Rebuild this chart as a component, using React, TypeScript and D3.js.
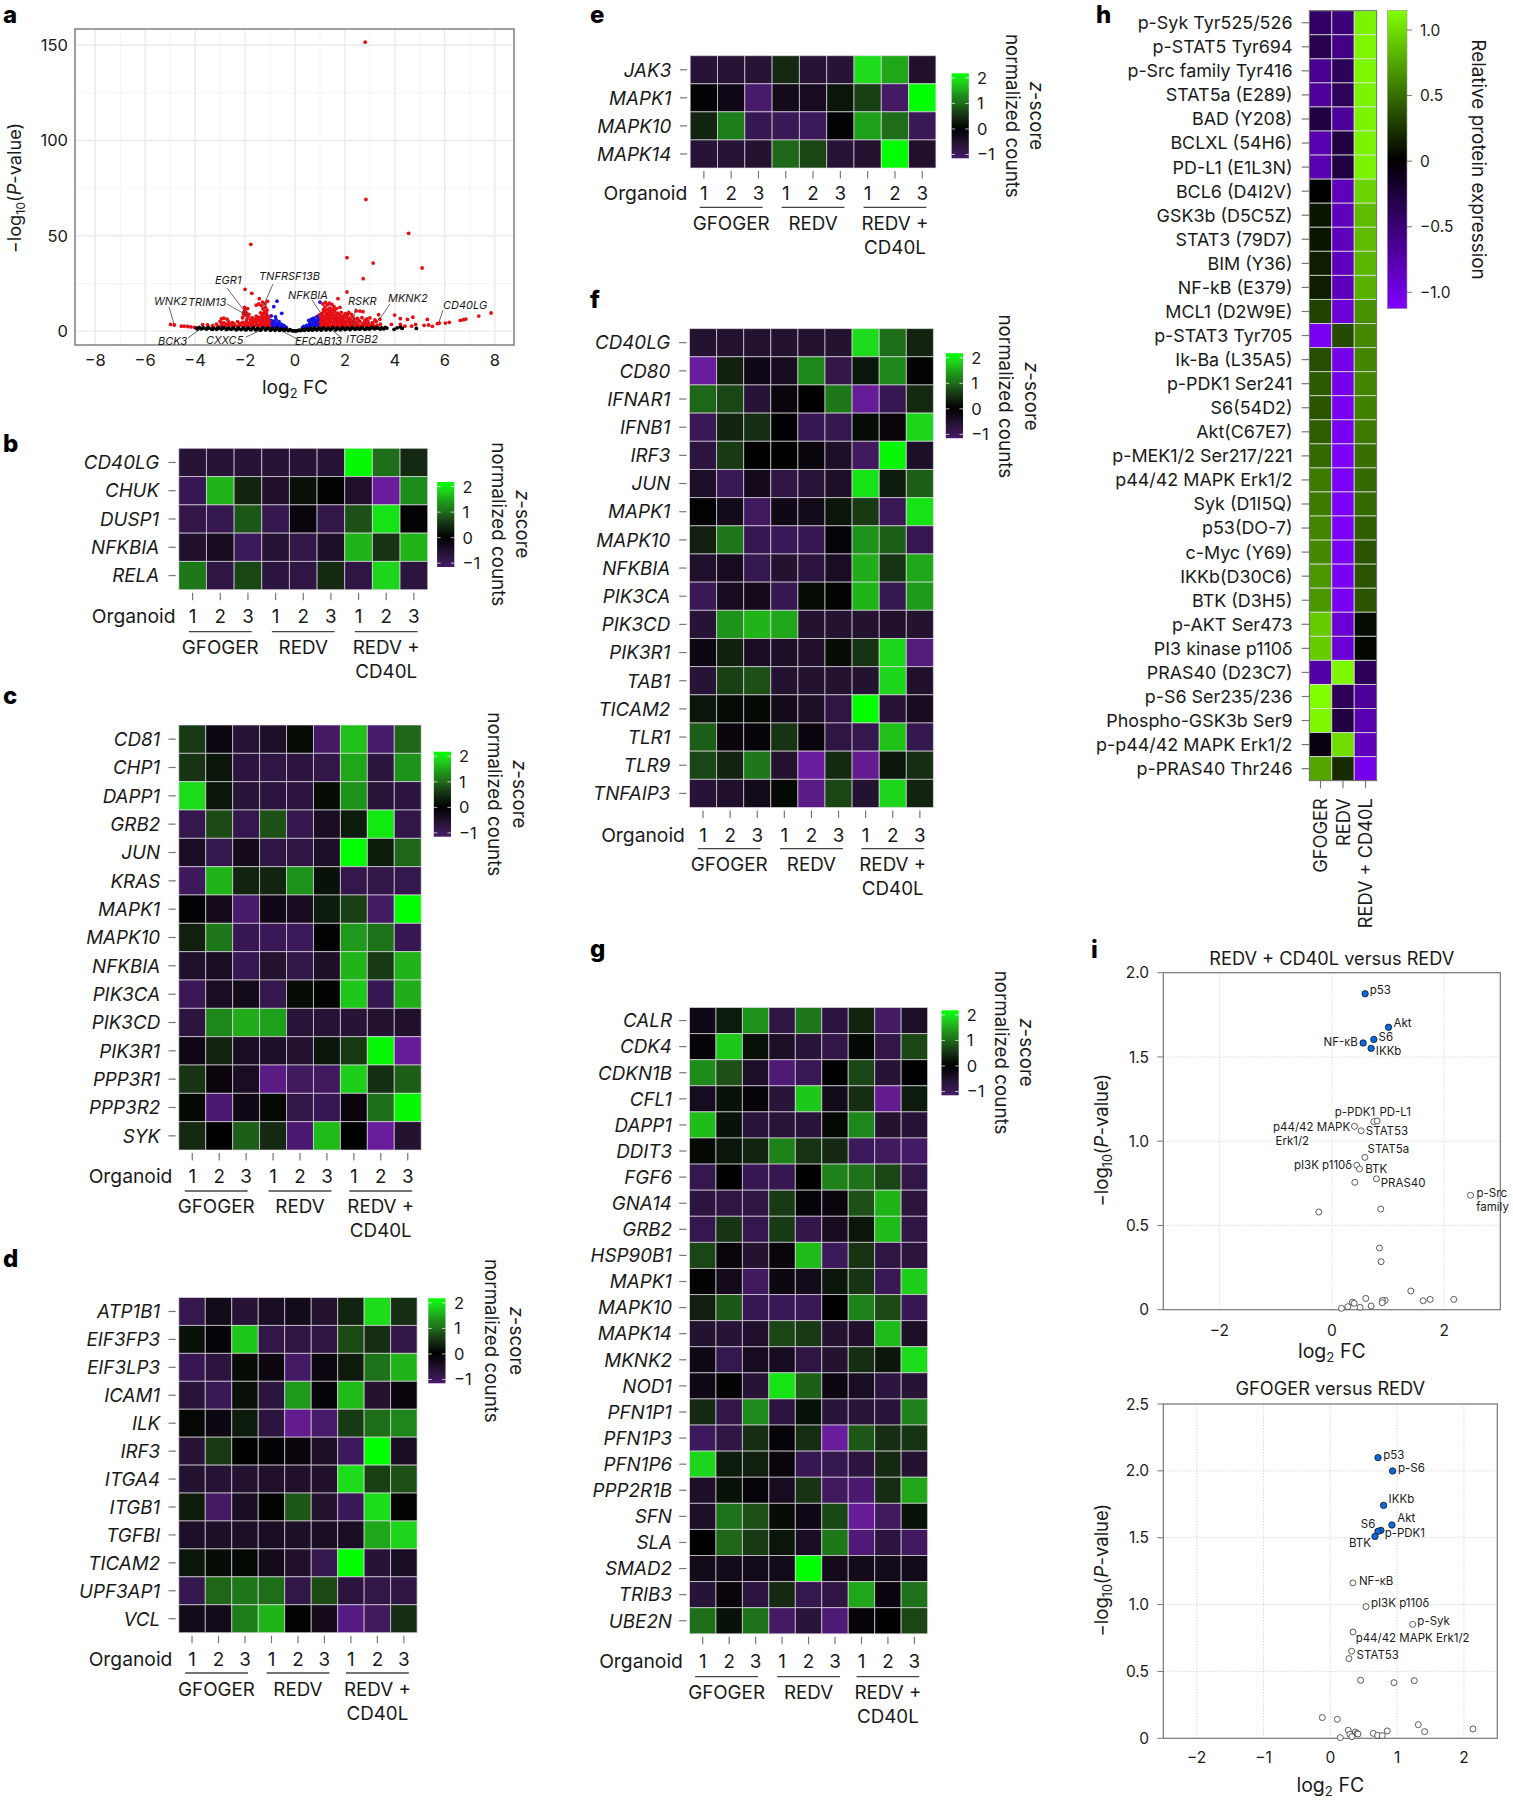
import React from 'react';
import * as d3 from 'd3';

const FONT = 'Inter, "Noto Sans", sans-serif';

// heat map rows, z-scores
const genesB = ['CD40LG', 'CHUK', 'DUSP1', 'NFKBIA', 'RELA'];
const valuesB = [
  [-0.6, -0.6, -0.6, -0.6, -0.6, -0.6, 2.1, 1.0, 0.45],
  [-0.9, 1.6, 0.4, -0.5, 0.2, 0.05, -0.5, -1.6, 1.3],
  [-0.8, -0.85, 0.85, -0.85, -0.15, -0.8, 0.8, 1.95, -0.05],
  [-0.5, -0.35, -1.0, -0.6, -0.8, -0.45, 1.6, 0.55, 1.6],
  [1.1, -0.75, 0.7, -0.7, -0.75, 0.45, -0.75, 1.85, -0.7],
];

const genesC = ['CD81', 'CHP1', 'DAPP1', 'GRB2', 'JUN', 'KRAS', 'MAPK1', 'MAPK10', 'NFKBIA', 'PIK3CA', 'PIK3CD', 'PIK3R1', 'PPP3R1', 'PPP3R2', 'SYK'];
const valuesC = [
  [0.6, -0.2, -0.6, -0.45, 0.15, -1.1, 1.7, -1.15, 0.95],
  [0.55, 0.25, -0.7, -0.75, -0.7, -0.8, 1.5, -0.7, 1.35],
  [1.9, 0.25, -0.65, -0.7, -0.7, 0.15, 1.35, -0.65, -0.7],
  [-0.85, 0.75, -0.85, 0.8, -0.85, -0.4, 0.3, 2.0, -0.8],
  [-0.4, -0.85, -0.3, -0.75, -0.75, -0.45, 2.15, 0.3, 0.95],
  [-1.0, 1.6, 0.4, 0.4, 1.35, 0.2, -0.85, -0.8, -0.85],
  [-0.05, -0.3, -1.15, -0.25, -0.35, 0.3, 0.65, -1.1, 2.2],
  [0.35, 1.1, -0.9, -0.95, -1.0, -0.05, 1.4, 1.05, -0.9],
  [-0.5, -0.4, -0.9, -0.55, -0.8, -0.45, 1.6, 0.6, 1.6],
  [-0.95, -0.4, -0.3, -0.85, 0.15, 0.05, 1.75, -0.9, 1.55],
  [-0.7, 1.25, 1.55, 1.45, -0.65, -0.6, -0.6, -0.55, -0.5],
  [-0.25, 0.4, -0.4, -0.45, -0.55, 0.25, 0.6, 2.1, -1.55],
  [0.55, -0.15, -0.4, -1.4, -1.05, -1.05, 1.8, 0.5, 0.9],
  [0.1, -1.2, -0.25, 0.1, -0.8, -0.9, -0.15, 1.0, 2.1],
  [0.45, -0.02, 0.9, 0.45, -1.2, 1.65, -0.02, -1.7, -0.55],
];

const genesD = ['ATP1B1', 'EIF3FP3', 'EIF3LP3', 'ICAM1', 'ILK', 'IRF3', 'ITGA4', 'ITGB1', 'TGFBI', 'TICAM2', 'UPF3AP1', 'VCL'];
const valuesD = [
  [-0.85, -0.3, -0.6, -0.4, -0.3, -0.55, 0.4, 1.9, 0.5],
  [0.2, -0.1, 1.75, -0.8, -0.75, -0.75, 0.75, 0.5, -0.8],
  [-0.9, -0.7, 0.15, -0.2, -1.1, -0.2, 0.3, 1.05, 1.6],
  [-0.65, -0.95, 0.2, -0.7, 1.4, -0.1, 1.65, -0.55, -0.15],
  [0.08, -0.2, 0.3, -0.7, -1.5, -1.15, 0.6, 1.0, 1.25],
  [-0.6, 0.6, 0, -0.05, -0.15, -0.45, -1.0, 2.15, -0.4],
  [-0.55, -0.6, -0.55, -0.5, -0.5, -0.5, 1.9, 0.65, 0.8],
  [0.3, -1.1, -0.4, 0.05, 0.85, -0.55, -0.95, 1.9, 0.05],
  [-0.45, -0.45, -0.45, -0.4, -0.45, -0.4, -0.4, 1.5, 1.85],
  [0.25, 0.15, 0.1, -0.3, -0.5, -0.85, 2.2, -0.6, -0.4],
  [-0.85, 0.95, 1.1, 1.0, -0.8, 0.75, -0.7, -0.8, -0.75],
  [-0.3, -0.3, 1.15, 1.6, 0.02, -0.3, -1.35, -1.05, 0.5],
];

const genesE = ['JAK3', 'MAPK1', 'MAPK10', 'MAPK14'];
const valuesE = [
  [-0.6, -0.6, -0.6, 0.45, -0.6, -0.6, 1.9, 1.5, -0.5],
  [-0.05, -0.25, -1.15, -0.3, -0.35, 0.25, 0.65, -1.1, 2.2],
  [0.4, 1.15, -0.9, -0.95, -1.0, -0.05, 1.45, 1.0, -0.95],
  [-0.6, -0.6, -0.55, 0.95, 0.7, -0.6, -0.55, 2.15, -0.5],
];

const genesF = ['CD40LG', 'CD80', 'IFNAR1', 'IFNB1', 'IRF3', 'JUN', 'MAPK1', 'MAPK10', 'NFKBIA', 'PIK3CA', 'PIK3CD', 'PIK3R1', 'TAB1', 'TICAM2', 'TLR1', 'TLR9', 'TNFAIP3'];
const valuesF = [
  [-0.55, -0.55, -0.55, -0.55, -0.55, -0.55, 1.9, 1.0, 0.4],
  [-1.6, 0.35, -0.25, -0.35, 1.25, -0.8, 0.25, 1.25, 0.05],
  [0.95, 0.7, -0.6, -0.15, 0, 1.1, -1.55, -0.9, 0.45],
  [-0.95, 0.4, 0.5, -0.02, -0.9, -0.85, 0.12, -0.12, 1.85],
  [-0.7, 0.6, 0, -0.02, -0.15, -0.45, -1.05, 2.1, -0.45],
  [-0.45, -0.95, -0.3, -0.75, -0.65, -0.45, 1.95, 0.3, 0.9],
  [-0.05, -0.3, -1.05, -0.25, -0.3, 0.25, 0.6, -0.95, 1.95],
  [0.35, 1.1, -0.9, -0.95, -0.9, -0.08, 1.35, 0.9, -0.9],
  [-0.5, -0.35, -0.85, -0.55, -0.7, -0.4, 1.55, 0.55, 1.5],
  [-0.95, -0.35, -0.3, -0.9, 0.12, 0.05, 1.6, -0.85, 1.4],
  [-0.6, 1.35, 1.6, 1.5, -0.55, -0.55, -0.55, -0.5, -0.55],
  [-0.2, 0.35, -0.4, -0.45, -0.5, 0.15, 0.55, 1.85, -1.3],
  [-0.6, 0.65, 0.8, -0.55, -0.55, -0.55, -0.55, 1.85, -0.5],
  [0.25, 0.12, 0.1, -0.3, -0.45, -0.75, 2.2, -0.6, -0.35],
  [0.9, -0.15, -0.1, 0.55, -0.15, -0.75, -0.85, 1.7, -0.85],
  [0.7, 0.4, 1.1, -0.55, -1.7, 0.45, -1.5, 0.25, 0.5],
  [-0.6, -0.5, -0.3, 0.1, -1.4, 0.7, -0.55, 1.85, 0.4],
];

const genesG = ['CALR', 'CDK4', 'CDKN1B', 'CFL1', 'DAPP1', 'DDIT3', 'FGF6', 'GNA14', 'GRB2', 'HSP90B1', 'MAPK1', 'MAPK10', 'MAPK14', 'MKNK2', 'NOD1', 'PFN1P1', 'PFN1P3', 'PFN1P6', 'PPP2R1B', 'SFN', 'SLA', 'SMAD2', 'TRIB3', 'UBE2N'];
const valuesG = [
  [-0.25, 0.3, 1.35, -0.75, 1.1, -0.7, 0.4, -1.1, -0.45],
  [-0.1, 1.75, 0.2, -0.45, -0.65, -0.8, 0.1, -0.8, 0.7],
  [1.3, 0.8, -0.45, -1.25, -0.95, -0.02, 0.7, -0.6, 0],
  [-0.35, 0.2, -0.1, -0.65, 1.75, -0.3, 0.5, -1.5, 0.3],
  [1.65, 0.2, -0.65, -0.65, -0.65, 0.1, 1.25, -0.55, -0.6],
  [0.1, 0.25, 0.4, 1.2, 0.55, 0.45, -1.0, -1.05, -1.1],
  [-0.85, 0, -0.9, -0.9, -0.02, 1.2, 1.05, 0.7, -0.8],
  [-0.7, -0.75, -0.75, 0.6, -0.1, -0.15, 0.8, 1.6, -0.7],
  [-0.85, 0.55, -0.85, 0.6, -0.8, -0.35, 0.25, 1.65, -0.75],
  [0.7, -0.12, -0.55, -0.12, 1.65, -1.0, 0.55, -0.75, -0.7],
  [-0.05, -0.3, -1.05, -0.2, -0.3, 0.25, 0.55, -0.95, 1.8],
  [0.35, 0.85, -0.9, -0.95, -0.95, -0.02, 1.2, 0.75, -0.9],
  [-0.55, -0.6, -0.5, 0.7, 0.6, -0.55, -0.5, 1.65, -0.45],
  [-0.25, -0.85, -0.35, -0.35, -0.75, -0.55, 0.5, 0.25, 1.9],
  [-0.25, -0.05, -0.6, 1.95, 0.9, -0.2, -0.4, -0.7, -0.6],
  [0.45, -0.8, 1.3, -0.7, 0.2, -0.65, -0.65, -0.65, 1.2],
  [-1.0, -0.75, 0.5, -0.1, 0.5, -1.6, 0.85, 0.5, 0.55],
  [1.85, 0.3, 0.35, -0.15, -0.9, -0.85, -0.7, 0.45, -0.55],
  [-0.45, 0.2, -0.08, -0.35, 0.55, -1.05, -1.2, 0.5, 1.5],
  [-0.45, 1.05, 0.8, 0.15, -0.25, 0.7, -1.55, -1.05, 0.2],
  [0, 0.95, 0.6, 0.25, -0.4, 1.1, -1.25, -0.7, -1.05],
  [-0.3, -0.3, -0.3, -0.3, 2.2, -0.3, -0.3, -0.3, -0.3],
  [-0.6, -0.12, -0.7, 0.45, -0.85, -0.75, 1.5, -0.15, 1.05],
  [1.0, 0.2, 1.05, -1.1, -0.65, -1.25, -0.1, -0.02, 0.7],
];

// panel h
const proteins = ['p-Syk Tyr525/526', 'p-STAT5 Tyr694', 'p-Src family Tyr416', 'STAT5a (E289)', 'BAD (Y208)', 'BCLXL (54H6)', 'PD-L1 (E1L3N)', 'BCL6 (D4I2V)', 'GSK3b (D5C5Z)', 'STAT3 (79D7)', 'BIM (Y36)', 'NF-kB (E379)', 'MCL1 (D2W9E)', 'p-STAT3 Tyr705', 'Ik-Ba (L35A5)', 'p-PDK1 Ser241', 'S6(54D2)', 'Akt(C67E7)', 'p-MEK1/2 Ser217/221', 'p44/42 MAPK Erk1/2', 'Syk (D1I5Q)', 'p53(DO-7)', 'c-Myc (Y69)', 'IKKb(D30C6)', 'BTK (D3H5)', 'p-AKT Ser473', 'PI3 kinase p110δ', 'PRAS40 (D23C7)', 'p-S6 Ser235/236', 'Phospho-GSK3b Ser9', 'p-p44/42 MAPK Erk1/2', 'p-PRAS40 Thr246'];
const proteinConditions = ['GFOGER', 'REDV', 'REDV + CD40L'];
const proteinValues = [
  [-0.45, -0.55, 1.1], [-0.35, -0.6, 1.12], [-0.65, -0.4, 1.12], [-0.7, -0.4, 1.1],
  [-0.3, -0.7, 1.1], [-0.8, -0.3, 1.1], [-0.8, -0.3, 1.1], [0, -0.85, 0.95],
  [0.1, -0.85, 0.85], [0.1, -0.85, 0.85], [0.13, -0.85, 0.82], [0.13, -0.85, 0.8],
  [0.3, -0.98, 0.65], [-1.1, 0.33, 0.62], [0.35, -1.05, 0.6], [0.4, -1.05, 0.6],
  [0.38, -1.1, 0.58], [0.42, -1.1, 0.55], [0.47, -1.12, 0.5], [0.55, -1.12, 0.48],
  [0.55, -1.12, 0.48], [0.6, -1.12, 0.42], [0.62, -1.1, 0.38], [0.68, -1.1, 0.38],
  [0.68, -1.1, 0.38], [0.92, -0.95, 0.05], [0.92, -0.95, 0.03], [-0.75, 1.12, -0.4],
  [1.15, -0.4, -0.7], [1.12, -0.3, -0.8], [-0.08, 1.0, -0.85], [0.75, 0.2, -1.05],
];

// panel a, log2 FC and -log10 P
const volcanoBlack = [
  [-3.95, 1.6], [-3.84, 1.9], [-3.76, 1.2], [-3.66, 1.7], [-3.55, 1.1], [-3.46, 1.8], [-3.36, 1.2], [-3.25, 1.6], [-3.14, 0.9], [-3.05, 1.7],
  [-2.95, 1.1], [-2.85, 1.8], [-2.75, 0.8], [-2.66, 1.5], [-2.56, 0.9], [-2.46, 1.8], [-2.36, 0.7], [-2.26, 1.5], [-2.16, 0.8], [-2.07, 1.7],
  [-1.97, 0.6], [-1.87, 1.6], [-1.77, 0.7], [-1.67, 1.8], [-1.58, 0.6], [-1.48, 1.5], [-1.38, 0.5], [-1.28, 1.8], [-1.18, 0.6], [-1.08, 1.6],
  [-0.98, 0.5], [-0.9, 1.4], [-0.8, 0.4], [-0.72, 1.5], [-0.62, 0.4], [-0.54, 1.2], [-0.45, 0.4], [-0.36, 1.0], [-0.27, 0.3], [-0.2, 0.7],
  [-0.12, 0.2], [-0.05, 0.1], [0.03, 0.05], [0.1, 0.2], [0.17, 0.5], [0.24, 0.3], [0.3, 0.9], [0.38, 0.4], [0.46, 1.2], [0.54, 0.5],
  [0.62, 1.4], [0.7, 0.5], [0.78, 1.6], [0.87, 0.6], [0.96, 1.5], [1.05, 0.5], [1.14, 1.7], [1.24, 0.6], [1.33, 1.5], [1.42, 0.7],
  [1.52, 1.8], [1.62, 0.6], [1.71, 1.6], [1.81, 0.7], [1.91, 1.8], [2.0, 0.8], [2.1, 1.5], [2.2, 0.8], [2.3, 1.8], [2.4, 0.9],
  [2.49, 1.6], [2.59, 1.0], [2.69, 1.8], [2.79, 0.9], [2.88, 1.5], [2.98, 1.1], [3.08, 1.9], [3.18, 1.2], [3.27, 1.7], [3.37, 1.4],
  [3.48, 1.7], [3.56, 1.2], [3.61, 1.9], [3.68, 1.6], [3.97, 0.9], [4.09, 1.7], [4.22, 2.1], [4.29, 1.4], [4.86, 1.4],
  [-3.9, 1.1], [-3.7, 1.5], [-3.5, 1.5], [-3.3, 0.9], [-3.1, 1.4], [-2.9, 1.5], [-2.7, 1.2], [-2.5, 1.3], [-2.3, 1.1], [-2.1, 1.2],
  [-1.92, 1.1], [-1.72, 1.2], [-1.52, 1.0], [-1.33, 1.1], [-1.13, 1.2], [-0.94, 1.0], [-0.76, 0.9], [-0.58, 0.8], [-0.4, 0.7], [0.42, 0.8],
  [0.58, 0.9], [0.74, 1.0], [0.92, 1.1], [1.09, 1.2], [1.28, 1.0], [1.47, 1.2], [1.66, 1.1], [1.86, 1.2], [2.05, 1.2], [2.25, 1.3],
  [2.44, 1.2], [2.64, 1.4], [2.84, 1.2], [3.03, 1.5], [3.22, 1.5], [3.42, 1.1],
];
const volcanoBlue = [
  [-0.97, 2.6], [-0.93, 4], [-0.88, 5.2], [-0.84, 3], [-0.8, 4.4], [-0.76, 6], [-0.72, 2.8], [-0.68, 3.9], [-0.64, 5], [-0.6, 2.6],
  [-0.55, 3.6], [-0.5, 2.5], [-0.45, 3], [-0.4, 2.2], [-0.35, 2], [-0.9, 2.6], [-0.78, 2.4], [-0.66, 2.4], [-0.52, 2], [-0.97, 5.6],
  [-0.72, 15.7], [-0.85, 12.8], [-0.53, 9.3], [-0.78, 7.5], [-0.95, 8],
  [0.3, 1.8], [0.35, 2.4], [0.42, 2.1], [0.47, 3], [0.52, 2.4], [0.57, 3.4], [0.6, 4.4], [0.63, 2.6], [0.68, 3.5], [0.72, 5],
  [0.74, 2.8], [0.78, 4], [0.8, 6], [0.83, 2.9], [0.86, 4.6], [0.9, 3.2], [0.92, 5.6], [0.95, 2.8], [0.96, 4], [0.98, 7],
  [0.55, 5.6], [0.66, 6.2], [0.75, 6.8], [0.88, 7.6], [0.94, 6.2], [0.97, 8.4], [1.0, 15.2], [0.99, 5],
];
const volcanoRed = [
  [2.81, 151.6], [2.84, 69.1], [4.55, 51.3], [-1.77, 45.5], [2.08, 38.5], [3.13, 35.7], [5.09, 33.1], [2.73, 27.5], [-2.0, 21.9], [2.08, 20.5],
  [-1.73, 19.8], [-1.43, 17], [1.72, 17],
  [7.85, 9.5], [7.36, 7.9], [6.84, 6.3], [6.75, 6], [6.62, 5.6], [6.18, 4.6], [6.02, 4.2], [5.78, 4.2], [5.7, 3.9], [5.3, 6.1], [5.5, 2.5],
  [5.35, 3.2], [5.17, 3], [4.72, 7.3], [4.83, 3.5], [4.67, 2.6], [4.5, 6.1], [4.22, 6.5], [3.99, 8.4], [3.86, 3.5], [4.22, 3.5], [4.4, 2.6],
  [-4.98, 3.5], [-4.83, 3.2], [-4.55, 2.6], [-4.44, 2.6], [-4.3, 2.4], [-4.17, 2.2], [-4.03, 2],
  [1.03, 2.6], [1.12, 3.4], [1.18, 2.4], [1.26, 3.1], [1.33, 2.3], [1.41, 2.9], [1.49, 2.5], [1.57, 3.3], [1.64, 2.4], [1.72, 2.8],
  [1.81, 2.3], [1.9, 3.2], [1.98, 2.5], [2.06, 2.9], [2.14, 2.4], [2.23, 3.1], [2.31, 2.6], [2.42, 2.4], [2.55, 2.8], [2.66, 2.5],
  [2.78, 3.2], [2.9, 2.6], [3.03, 2.9], [3.18, 2.5], [3.3, 2.8],
  [1.02, 4.6], [1.1, 5.2], [1.19, 4.5], [1.27, 5.4], [1.35, 4.4], [1.44, 5], [1.52, 4.6], [1.61, 5.3], [1.7, 4.5], [1.78, 5],
  [1.88, 4.4], [1.97, 5.2], [2.05, 4.6], [2.15, 5], [2.24, 4.3], [2.33, 5.2], [2.45, 4.4], [2.6, 4.9], [2.75, 4.2], [2.92, 5],
  [3.1, 4.4], [3.25, 4.9],
  [1.04, 7], [1.13, 7.6], [1.2, 6.6], [1.3, 7.2], [1.38, 6.8], [1.47, 7.7], [1.55, 6.7], [1.65, 7.4], [1.75, 6.8], [1.85, 7.6],
  [1.95, 6.7], [2.06, 7.3], [2.17, 6.8], [2.3, 7.5], [2.5, 6.6], [2.68, 7], [2.88, 6.4], [3.0, 6.9], [3.2, 5.9], [3.4, 6.2],
  [1.08, 9.4], [1.17, 10.2], [1.27, 9.2], [1.36, 10], [1.46, 9.6], [1.58, 10.3], [1.7, 9.4], [1.85, 9.8], [2.02, 9.2], [2.15, 9.8],
  [2.45, 10.6], [2.6, 10.5], [2.72, 10.2], [3.35, 8.6],
  [1.2, 12.6], [1.3, 13.8], [1.4, 12], [1.48, 14], [1.56, 12.8], [1.38, 14.6], [1.22, 15], [1.12, 14.2], [1.66, 11.8], [1.8, 12.4],
  [1.07, 3.8], [1.22, 3.7], [1.37, 3.6], [1.53, 3.8], [1.68, 3.7], [1.84, 3.8], [2.0, 3.7], [2.19, 3.8], [2.37, 3.5], [2.5, 3.4],
  [2.7, 3.6], [2.84, 3.8], [2.97, 3.6], [3.12, 3.3], [3.42, 3.6], [1.06, 6], [1.16, 6.1], [1.24, 6.3], [1.34, 5.9], [1.43, 6.2],
  [1.59, 6], [1.69, 6.1], [1.82, 5.9], [1.92, 6], [2.1, 5.9], [2.21, 6], [2.38, 6.2], [2.53, 5.8], [2.8, 5.6], [1.0, 8.3],
  [1.1, 8.5], [1.24, 8.3], [1.33, 8.6], [1.42, 8.4], [1.52, 8.6], [1.62, 8.3], [1.78, 8.4], [1.96, 8.3], [2.1, 8.6], [2.26, 8.8],
  [1.14, 11.3], [1.25, 11], [1.34, 11.5], [1.44, 10.9], [1.52, 11.3],
  [-1.07, 3.8], [-1.22, 4], [-1.38, 3.9], [-1.54, 3.9], [-1.7, 4], [-1.88, 3.8], [-2.0, 3.7], [-2.22, 3.9], [-2.45, 3.8], [-2.6, 3.7],
  [-2.75, 3.6], [-2.92, 3.9], [-3.15, 3.7], [-1.07, 6.5], [-1.16, 6.6], [-1.3, 6.4], [-1.4, 6.3], [-1.5, 6.5], [-1.62, 6.2], [-1.78, 6],
  [-1.92, 6.3], [-1.15, 9.5], [-1.25, 9.4], [-1.38, 9.6], [-1.85, 8.8], [-2.07, 8.9],
  [-1.03, 2.6], [-1.1, 3.5], [-1.17, 2.4], [-1.25, 3.2], [-1.33, 2.5], [-1.41, 3.4], [-1.5, 2.4], [-1.58, 3], [-1.67, 2.5], [-1.76, 3.2],
  [-1.85, 2.4], [-1.95, 2.9], [-2.05, 2.4], [-2.16, 3.2], [-2.28, 2.6], [-2.4, 3], [-2.52, 2.5], [-2.66, 3.1], [-2.8, 2.6], [-2.95, 3],
  [-3.1, 2.6], [-3.3, 2.8], [-3.5, 3.2], [-3.7, 3.4],
  [-1.02, 5], [-1.1, 5.6], [-1.18, 4.8], [-1.27, 5.5], [-1.35, 4.7], [-1.45, 5.4], [-1.55, 4.8], [-1.66, 5.2], [-1.8, 4.7], [-1.95, 5.1],
  [-2.1, 4.6], [-2.3, 5], [-2.5, 4.4], [-2.65, 4.8], [-2.85, 4.4], [-3.0, 5],
  [-1.05, 7.6], [-1.13, 8.4], [-1.22, 7.4], [-1.32, 8.1], [-1.43, 7.2], [-1.55, 7.8], [-1.72, 7], [-1.88, 7.6], [-2.0, 8.4], [-2.1, 7],
  [-2.72, 6.2], [-2.85, 6.8], [-2.95, 6.4],
  [-1.12, 11], [-1.2, 10.2], [-1.28, 11.6], [-1.18, 12.4], [-1.35, 13.4], [-1.45, 14.2], [-1.55, 13.6], [-1.3, 15.2], [-1.1, 15.6], [-1.2, 14.3],
  [-1.95, 9.6], [-2.0, 11], [-2.05, 10], [-1.9, 11.8], [-2.02, 12.4],
];
// label, text left, text baseline, leader from, leader to (px on the page)
const volcanoLabels: [string, number, number, number, number, number, number][] = [
  ['WNK2', 154, 305, 169, 307, 174, 324],
  ['TRIM13', 188, 306, 227, 304, 248, 316],
  ['EGR1', 215, 284, 227, 288, 246, 313],
  ['TNFRSF13B', 259, 280, 273, 284, 262, 309],
  ['NFKBIA', 288, 299, 312, 300, 322, 315],
  ['RSKR', 348, 305, 356, 308, 352, 326],
  ['MKNK2', 388, 302, 390, 304, 379, 320],
  ['CD40LG', 443, 309, 443, 310, 439, 322],
  ['BCK3', 158, 345, 188, 338, 200, 329],
  ['CXXC5', 206, 344, 246, 337, 259, 331],
  ['EFCAB13', 295, 345, 299, 340, 282, 331],
  ['ITGB2', 346, 343, 342, 338, 333, 331],
];

// panel i top, REDV + CD40L versus REDV
const topSig = [[0.593, 1.875], [1.01, 1.676], [0.748, 1.604], [0.558, 1.583], [0.7, 1.551]];
const topNs = [
  [0.748, 1.116], [0.807, 1.12], [0.404, 1.088], [0.522, 1.062], [0.588, 0.904], [0.445, 0.857], [0.493, 0.835], [0.795, 0.777], [0.41, 0.756], [2.47, 0.679],
  [0.872, 0.597], [-0.231, 0.58], [0.849, 0.366], [0.878, 0.285], [1.407, 0.111], [0.605, 0.067], [1.626, 0.053], [1.751, 0.061], [2.172, 0.061], [0.95, 0.055],
  [0.902, 0.055], [0.896, 0.042], [0.368, 0.045], [0.398, 0.038], [0.285, 0.018], [0.172, 0.008], [0.504, 0.014], [0.7, 0.022],
];
// text, point x, point y, dx, dy, anchor
const topLabels: [string, number, number, number, number, string][] = [
  ['p53', 0.593, 1.875, 4.7, 0.7, 'start'], ['Akt', 1.01, 1.676, 5, 0, 'start'], ['S6', 0.748, 1.604, 4.7, 1.7, 'start'],
  ['NF-κB', 0.558, 1.583, -5.3, 3, 'end'], ['IKKb', 0.7, 1.551, 4.7, 6.7, 'start'], ['p-PDK1', 0.748, 1.116, 1.3, -5.7, 'end'],
  ['PD-L1', 0.807, 1.12, 2.3, -5, 'start'], ['p44/42 MAPK', 0.404, 1.088, -4.3, 4.3, 'end'], ['Erk1/2', 0.404, 1.088, -79, 18.7, 'start'],
  ['STAT53', 0.522, 1.062, 4.7, 4.3, 'start'], ['STAT5a', 0.588, 0.904, 2.7, -4, 'start'], ['pI3K p110δ', 0.445, 0.857, -4.7, 3.7, 'end'],
  ['BTK', 0.493, 0.835, 5.7, 4.3, 'start'], ['PRAS40', 0.795, 0.777, 4.3, 8, 'start'], ['p-Src', 2.47, 0.679, 6, 2, 'start'], ['family', 2.47, 0.679, 5.7, 15.3, 'start'],
];

// panel i bottom, GFOGER versus REDV
const bottomSig = [[0.714, 2.099], [0.933, 1.999], [0.798, 1.742], [0.923, 1.595], [0.758, 1.555], [0.714, 1.548], [0.669, 1.51]];
const bottomNs = [
  [0.339, 1.162], [0.534, 0.985], [1.233, 0.852], [0.339, 0.795], [0.319, 0.651], [0.279, 0.596], [0.454, 0.434], [0.953, 0.416], [1.257, 0.431], [-0.12, 0.155],
  [0.105, 0.142], [1.317, 0.102], [1.412, 0.05], [2.136, 0.07], [0.269, 0.06], [0.374, 0.047], [0.294, 0.03], [0.4, 0.035], [0.414, 0.032], [0.324, 0.012],
  [0.15, 0.005], [0.644, 0.037], [0.709, 0.022], [0.778, 0.02], [0.853, 0.055],
];
const bottomLabels: [string, number, number, number, number, string][] = [
  ['p53', 0.714, 2.099, 5.3, 1, 'start'], ['p-S6', 0.933, 1.999, 5.3, 0.7, 'start'], ['IKKb', 0.798, 1.742, 5, -2, 'start'],
  ['Akt', 0.923, 1.595, 5.3, -2.7, 'start'], ['S6', 0.714, 1.548, -2.7, -3, 'end'], ['p-PDK1', 0.758, 1.555, 3.7, 6.3, 'start'],
  ['BTK', 0.669, 1.51, -4, 10.3, 'end'], ['NF-κB', 0.339, 1.162, 6, 2, 'start'], ['pI3K p110δ', 0.534, 0.985, 5, 0.7, 'start'],
  ['p-Syk', 1.233, 0.852, 4.7, 0.7, 'start'], ['p44/42 MAPK Erk1/2', 0.339, 0.795, 2.7, 9.7, 'start'], ['STAT53', 0.319, 0.651, 5, 7.3, 'start'],
];

const zColor = d3.scaleLinear<string>()
  .domain([-1.6, -1, -0.55, 0, 0.45, 0.8, 1, 1.3, 1.6, 1.9, 2.15])
  .range(['#691c9b', '#3c195a', '#231230', '#000000', '#142812', '#1c5016', '#1e6e19', '#1e8c1c', '#20b418', '#1cdc1c', '#00ff00'])
  .clamp(true);
const proteinColor = d3.scaleLinear<string>()
  .domain([-1.15, 0, 1.15])
  .range(['#8000ff', '#000000', '#80ff00'])
  .clamp(true);

const columns = d3.range(9);
const groups = [
  { name: ['GFOGER'], cols: [0, 1, 2] },
  { name: ['REDV'], cols: [3, 4, 5] },
  { name: ['REDV +', 'CD40L'], cols: [6, 7, 8] },
];

function Log2FC({ x, y, size }: any) {
  return (
    <text x={x} y={y} textAnchor="middle" fontSize={size} fill="#1a1a1a">
      log<tspan dy={4} fontSize={size * 0.68}>2</tspan><tspan dy={-4}> FC</tspan>
    </text>
  );
}

function LogP({ x, y, size }: any) {
  return (
    <text transform={`translate(${x},${y}) rotate(-90)`} textAnchor="middle" fontSize={size} fill="#1a1a1a">
      −log<tspan dy={4} fontSize={size * 0.68}>10</tspan><tspan dy={-4}>(</tspan><tspan fontStyle="italic">P</tspan>-value)
    </text>
  );
}

function Heatmap({ id, genes, values, top, bottom, left, right, geneX, orgX, numY, barY, groupY, legX, legY, tickX, normX, zX, titleMid, shift }: any) {
  const xb = d3.scaleBand<number>().domain(columns).range([left, right]);
  const yb = d3.scaleBand<string>().domain(genes).range([top, bottom]);
  const legendScale = d3.scaleLinear().domain([2.18, -1.15]).range([legY, legY + 85]);
  const stops = d3.range(0, 1.001, 0.05);
  return (
    <g>
      <defs>
        <linearGradient id={`grad-${id}`} x1="0" y1="0" x2="0" y2="1">
          {stops.map(s => (
            <stop key={s} offset={s} stopColor={zColor(legendScale.domain()[0] + s * (legendScale.domain()[1] - legendScale.domain()[0]))} />
          ))}
        </linearGradient>
      </defs>
      {genes.map((g: string, r: number) => columns.map(c => (
        <rect key={`${g}${c}`} x={xb(c)} y={yb(g)} width={xb.bandwidth()} height={yb.bandwidth()}
          fill={zColor(values[r][c])} stroke="#e6e2ea" strokeOpacity={0.65} strokeWidth={1} />
      )))}
      {genes.map((g: string) => (
        <g key={g}>
          <line x1={left - 10.3} x2={left - 3} y1={yb(g)! + yb.bandwidth() / 2} y2={yb(g)! + yb.bandwidth() / 2} stroke="#777" strokeWidth={1.2} />
          <text x={geneX} y={yb(g)! + yb.bandwidth() / 2} dy="0.36em" textAnchor="end" fontSize={18.8} fontStyle="italic" fill="#1a1a1a">{g}</text>
        </g>
      ))}
      {columns.map(c => (
        <g key={c}>
          <line x1={xb(c)! + xb.bandwidth() / 2} x2={xb(c)! + xb.bandwidth() / 2} y1={bottom + 3} y2={bottom + 10.5} stroke="#777" strokeWidth={1.2} />
          <text x={xb(c)! + xb.bandwidth() / 2} y={numY} textAnchor="middle" fontSize={18.8} fill="#1a1a1a">{c % 3 + 1}</text>
        </g>
      ))}
      <text x={orgX} y={numY} textAnchor="end" fontSize={19.3} fill="#1a1a1a">Organoid</text>
      {groups.map((gr, i) => {
        const mid = xb(gr.cols[1])! + xb.bandwidth() / 2 + (i === 0 ? shift : 0);
        return (
          <g key={i}>
            <line x1={mid - 31.4} x2={mid + 31.4} y1={barY} y2={barY} stroke="#444" strokeWidth={1.3} />
            {gr.name.map((t, j) => (
              <text key={t} x={mid} y={groupY + j * 24} textAnchor="middle" fontSize={18.8} fill="#1a1a1a">{t}</text>
            ))}
          </g>
        );
      })}
      <rect x={legX} y={legY} width={17.2} height={85} fill={`url(#grad-${id})`} />
      {[2, 1, 0, -1].map(v => (
        <g key={v}>
          <line x1={legX} x2={legX + 3.5} y1={legendScale(v)} y2={legendScale(v)} stroke="#fff" strokeOpacity={0.7} />
          <line x1={legX + 13.7} x2={legX + 17.2} y1={legendScale(v)} y2={legendScale(v)} stroke="#fff" strokeOpacity={0.7} />
          <text x={tickX} y={legendScale(v)} dy="0.36em" fontSize={16.5} fill="#1a1a1a">{v < 0 ? `−${-v}` : v}</text>
        </g>
      ))}
      <text transform={`translate(${normX},${titleMid}) rotate(90)`} dy="0.32em" textAnchor="middle" fontSize={18.8} fill="#1a1a1a">normalized counts</text>
      <text transform={`translate(${zX},${titleMid}) rotate(90)`} dy="0.32em" textAnchor="middle" fontSize={18.8} fill="#1a1a1a"><tspan fontStyle="italic">z</tspan>-score</text>
    </g>
  );
}

function Volcano() {
  const x = d3.scaleLinear().domain([-8.81, 8.77]).range([75, 514]);
  const y = d3.scaleLinear().domain([-7.3, 158.5]).range([345, 29]);
  const xMajor = [-8, -6, -4, -2, 0, 2, 4, 6, 8];
  const xMinor = [-7, -5, -3, -1, 1, 3, 5, 7];
  const yMajor = [0, 50, 100, 150];
  const yMinor = [25, 75, 125];
  const series: [number[][], string][] = [[volcanoBlue, '#1414e6'], [volcanoRed, '#e60f14'], [volcanoBlack, '#000']];
  return (
    <g>
      {xMinor.map(v => <line key={v} x1={x(v)} x2={x(v)} y1={29} y2={345} stroke="#f1f1f1" strokeWidth={0.8} />)}
      {yMinor.map(v => <line key={v} y1={y(v)} y2={y(v)} x1={75} x2={514} stroke="#f1f1f1" strokeWidth={0.8} />)}
      {xMajor.map(v => <line key={v} x1={x(v)} x2={x(v)} y1={29} y2={345} stroke="#ebebeb" strokeWidth={1.4} />)}
      {yMajor.map(v => <line key={v} y1={y(v)} y2={y(v)} x1={75} x2={514} stroke="#ebebeb" strokeWidth={1.4} />)}
      {series.map(([pts, col]) => pts.map((p, i) => <circle key={`${col}${i}`} cx={x(p[0])} cy={y(p[1])} r={1.9} fill={col} />))}
      <rect x={75} y={29} width={439} height={316} fill="none" stroke="#777" strokeWidth={1.4} />
      {xMajor.map(v => <text key={v} x={x(v)} y={366} textAnchor="middle" fontSize={16.5} fill="#1a1a1a">{v < 0 ? `−${-v}` : v}</text>)}
      {yMajor.map(v => <text key={v} x={68} y={y(v)} dy="0.36em" textAnchor="end" fontSize={16.5} fill="#1a1a1a">{v}</text>)}
      <Log2FC x={295} y={394} size={19} />
      <LogP x={20.5} y={188} size={18.2} />
      {volcanoLabels.map(([t, tx, ty, x1, y1, x2, y2]) => (
        <g key={t}>
          <line x1={x1} y1={y1} x2={x2} y2={y2} stroke="#444" strokeWidth={0.8} />
          <text x={tx} y={ty} fontSize={11} fontStyle="italic" fill="#1a1a1a">{t}</text>
        </g>
      ))}
    </g>
  );
}

function ProteinHeatmap() {
  const xb = d3.scaleBand<string>().domain(proteinConditions).range([1309.3, 1376.7]);
  const yb = d3.scaleBand<string>().domain(proteins).range([10.7, 780.7]);
  const legendScale = d3.scaleLinear().domain([1, -1]).range([30, 292.3]);
  const stops = d3.range(0, 1.001, 0.05);
  return (
    <g>
      <defs>
        <linearGradient id="grad-h" x1="0" y1="0" x2="0" y2="1">
          {stops.map(s => <stop key={s} offset={s} stopColor={proteinColor(1.15 - s * 2.3)} />)}
        </linearGradient>
      </defs>
      {proteins.map((p, r) => proteinConditions.map((c, k) => (
        <rect key={`${p}${c}`} x={xb(c)} y={yb(p)} width={xb.bandwidth()} height={yb.bandwidth()}
          fill={proteinColor(proteinValues[r][k])} stroke="#dfe3da" strokeOpacity={0.75} strokeWidth={1} />
      )))}
      <rect x={1309.3} y={10.7} width={67.4} height={770} fill="none" stroke="#555" strokeWidth={0.8} />
      {proteins.map(p => (
        <g key={p}>
          <line x1={1301.7} x2={1309} y1={yb(p)! + yb.bandwidth() / 2} y2={yb(p)! + yb.bandwidth() / 2} stroke="#777" strokeWidth={1.2} />
          <text x={1292.5} y={yb(p)! + yb.bandwidth() / 2} dy="0.36em" textAnchor="end" fontSize={17.9} fill="#1a1a1a">{p}</text>
        </g>
      ))}
      {proteinConditions.map(c => (
        <g key={c}>
          <line x1={xb(c)! + xb.bandwidth() / 2} x2={xb(c)! + xb.bandwidth() / 2} y1={780.7} y2={788.3} stroke="#777" strokeWidth={1.2} />
          <text transform={`translate(${xb(c)! + xb.bandwidth() / 2},798.3) rotate(-90)`} dy="0.36em" textAnchor="end" fontSize={18.2} fill="#1a1a1a">{c}</text>
        </g>
      ))}
      <rect x={1387.3} y={10.3} width={19.7} height={298.4} fill="url(#grad-h)" stroke="#999" strokeWidth={0.6} />
      {[1, 0.5, 0, -0.5, -1].map(v => (
        <g key={v}>
          <line x1={1407} x2={1412} y1={legendScale(v)} y2={legendScale(v)} stroke="#777" strokeWidth={1} />
          <text x={1420} y={legendScale(v)} dy="0.36em" fontSize={15.5} fill="#1a1a1a">{v === 0 ? '0' : d3.format('.1f')(v).replace('-', '−')}</text>
        </g>
      ))}
      <text transform="translate(1478.3,159.5) rotate(90)" dy="0.32em" textAnchor="middle" fontSize={18.9} fill="#1a1a1a">Relative protein expression</text>
    </g>
  );
}

function MiniVolcano({ title, titleY, box, xDomain, yDomain, xTicks, yTicks, sig, ns, labels, tickY, fcY, logX, logY }: any) {
  const x = d3.scaleLinear().domain(xDomain).range([box[0], box[2]]);
  const y = d3.scaleLinear().domain(yDomain).range([box[3], box[1]]);
  return (
    <g>
      {xTicks.map((v: number) => <line key={v} x1={x(v)} x2={x(v)} y1={box[1]} y2={box[3]} stroke="#ccc" strokeWidth={0.7} strokeDasharray="1.5 1.5" />)}
      {yTicks.filter((v: number) => v > 0).map((v: number) => <line key={v} y1={y(v)} y2={y(v)} x1={box[0]} x2={box[2]} stroke="#ccc" strokeWidth={0.7} strokeDasharray="1.5 1.5" />)}
      <rect x={box[0]} y={box[1]} width={box[2] - box[0]} height={box[3] - box[1]} fill="none" stroke="#777" strokeWidth={1.2} />
      {ns.map((p: number[], i: number) => <circle key={i} cx={x(p[0])} cy={y(p[1])} r={3} fill="#fff" stroke="#333" strokeWidth={0.8} />)}
      {sig.map((p: number[], i: number) => <circle key={i} cx={x(p[0])} cy={y(p[1])} r={3.2} fill="#0a6ae0" stroke="#111" strokeWidth={0.8} />)}
      {labels.map(([t, px, py, dx, dy, anchor]: any) => (
        <text key={t} x={x(px) + dx} y={y(py) + dy} textAnchor={anchor} fontSize={11.5} fill="#1a1a1a">{t}</text>
      ))}
      {xTicks.map((v: number) => <text key={v} x={x(v)} y={tickY} textAnchor="middle" fontSize={15.5} fill="#1a1a1a">{v < 0 ? `−${-v}` : v}</text>)}
      {yTicks.map((v: number) => (
        <g key={v}>
          <line x1={box[0] - 6} x2={box[0]} y1={y(v)} y2={y(v)} stroke="#777" strokeWidth={1} />
          <text x={1149} y={y(v)} dy="0.36em" textAnchor="end" fontSize={15.5} fill="#1a1a1a">{v === 0 ? '0' : d3.format('.1f')(v)}</text>
        </g>
      ))}
      <text x={(box[0] + box[2]) / 2} y={titleY} textAnchor="middle" fontSize={18.2} fill="#1a1a1a">{title}</text>
      <Log2FC x={(box[0] + box[2]) / 2} y={fcY} size={19.5} />
      <LogP x={logX} y={logY} size={18.5} />
    </g>
  );
}

const panelLetters: [string, number, number][] = [
  ['a', 3, 23], ['b', 3, 452], ['c', 3, 704], ['d', 3, 1267], ['e', 590, 23],
  ['f', 590, 308], ['g', 590, 957], ['h', 1096, 23], ['i', 1091, 958],
];

export default function App() {
  return (
    <svg width={1513} height={1800} fontFamily={FONT} style={{ position: 'absolute', left: 0, top: 0, background: '#fff' }}>
      <Volcano />
      <Heatmap id="b" genes={genesB} values={valuesB} top={448.3} bottom={589.7} left={178.8} right={427.7} geneX={159.2} orgX={175.5}
        numY={623} barY={631.7} groupY={654} legX={437.1} legY={482} tickX={462.5} normX={497.7} zX={522.3} titleMid={524.2} shift={0} />
      <Heatmap id="c" genes={genesC} values={valuesC} top={725} bottom={1150} left={178.8} right={421.2} geneX={160.2} orgX={172.4}
        numY={1183.3} barY={1191} groupY={1213} legX={433.8} legY={751.7} tickX={459.1} normX={493.6} zX={518.8} titleMid={794.2} shift={-3} />
      <Heatmap id="d" genes={genesD} values={valuesD} top={1297.5} bottom={1632.7} left={178.8} right={417.1} geneX={160.2} orgX={172.4}
        numY={1665.7} barY={1673} groupY={1695.7} legX={428.3} legY={1298.3} tickX={454.1} normX={490.9} zX={516.2} titleMid={1340.8} shift={-2} />
      <Heatmap id="e" genes={genesE} values={valuesE} top={55.7} bottom={168} left={690.2} right={935.9} geneX={671.3} orgX={687.2}
        numY={200} barY={207.3} groupY={230} legX={951.6} legY={73.3} tickX={977} normX={1011.7} zX={1036.1} titleMid={115.8} shift={0} />
      <Heatmap id="f" genes={genesF} values={valuesF} top={328.6} bottom={807.5} left={689.5} right={933.4} geneX={670.3} orgX={684.9}
        numY={841.5} barY={848.6} groupY={871} legX={945.8} legY={353.2} tickX={971.2} normX={1005} zX={1031} titleMid={396.3} shift={-1} />
      <Heatmap id="g" genes={genesG} values={valuesG} top={1007.5} bottom={1633.8} left={689.5} right={927.6} geneX={672} orgX={682.9}
        numY={1668.3} barY={1676.7} groupY={1699} legX={941.5} legY={1010.3} tickX={966.8} normX={1000.9} zX={1026.2} titleMid={1052.5} shift={-2.6} />
      <ProteinHeatmap />
      <MiniVolcano title="REDV + CD40L versus REDV" titleY={965} box={[1163.3, 972.7, 1500.3, 1309.7]} xDomain={[-3, 3]} yDomain={[0, 2]}
        xTicks={[-2, 0, 2]} yTicks={[0, 0.5, 1, 1.5, 2]} sig={topSig} ns={topNs} labels={topLabels} tickY={1336} fcY={1358} logX={1108} logY={1140} />
      <MiniVolcano title="GFOGER versus REDV" titleY={1395} box={[1163.3, 1404, 1497.3, 1738.3]} xDomain={[-2.5, 2.5]} yDomain={[0, 2.5]}
        xTicks={[-2, -1, 0, 1, 2]} yTicks={[0, 0.5, 1, 1.5, 2, 2.5]} sig={bottomSig} ns={bottomNs} labels={bottomLabels} tickY={1763} fcY={1792} logX={1108} logY={1570} />
      {panelLetters.map(([t, x, y]) => (
        <text key={t} x={x} y={y} fontSize={24} fontWeight={800} fill="#000">{t}</text>
      ))}
    </svg>
  );
}
